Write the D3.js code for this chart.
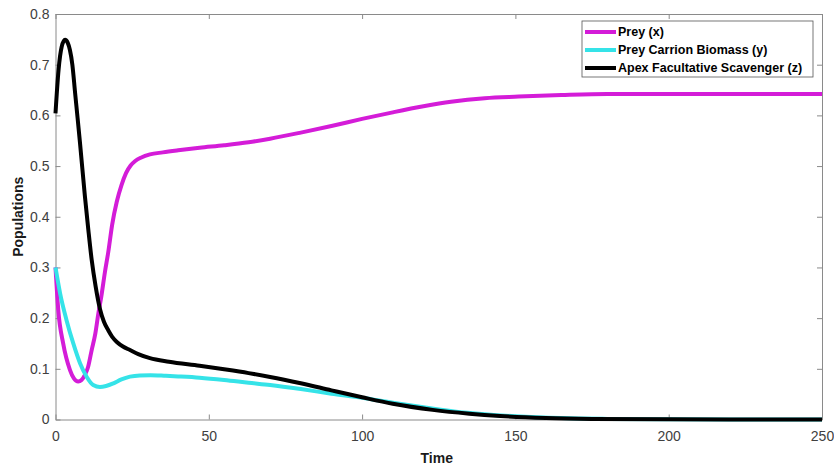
<!DOCTYPE html>
<html lang="en">
  <head>
    <meta charset="UTF-8" />
    <title>populations</title>
    <script src="https://cdn.jsdelivr.net/npm/d3@7/dist/d3.min.js"></script>
    <style>
      body { margin: 0; background: #fff; }
      text { font-family: Arial, "Liberation Sans", sans-serif; }
    </style>
  </head>
  <body>
    <div id="wrapper"></div>
    <script>
      // values
      const preyTime = [0, 0.9, 2.5, 4.7, 6, 7.4, 8.5, 9.6, 10.6, 11.8, 13, 14, 15, 16.1, 17.2, 18.5, 20, 21.5, 23, 24.5, 26, 28, 30.8, 35, 40, 47, 55, 63, 70, 80, 90, 100, 110, 120, 129, 140, 151, 165, 180, 200, 225, 250];
      const preyValues = [0.3, 0.216, 0.15, 0.098, 0.081, 0.075, 0.078, 0.088, 0.103, 0.137, 0.17, 0.21, 0.245, 0.29, 0.33, 0.385, 0.43, 0.462, 0.486, 0.501, 0.51, 0.517, 0.523, 0.527, 0.531, 0.536, 0.541, 0.547, 0.554, 0.566, 0.579, 0.593, 0.606, 0.618, 0.627, 0.634, 0.637, 0.64, 0.642, 0.642, 0.642, 0.642];

      const carrionTime = [0, 1.5, 3.6, 5.8, 8, 10.2, 12.3, 14.5, 16.5, 18.9, 21.5, 24.3, 27.5, 31, 36, 40, 47, 55, 63, 70, 80, 90, 100, 110, 120, 130, 140, 150, 165, 180, 200, 225, 250];
      const carrionValues = [0.3, 0.249, 0.196, 0.15, 0.111, 0.084, 0.068, 0.064, 0.066, 0.0714, 0.079, 0.0845, 0.087, 0.0875, 0.0862, 0.085, 0.0825, 0.078, 0.0725, 0.068, 0.06, 0.051, 0.043, 0.033, 0.024, 0.016, 0.0105, 0.0065, 0.0028, 0.0012, 0.0004, 0.0001, 0];

      const scavTime = [0, 1, 2, 3.1, 4, 4.7, 5.5, 6.4, 7.2, 8, 9.6, 10.7, 11.8, 13.1, 14.5, 15.8, 17.2, 18.5, 20, 22, 24.3, 27, 30.8, 37, 47, 55, 63, 70, 80, 90, 100, 110, 123, 135, 145, 160, 175, 200, 225, 250];
      const scavValues = [0.604, 0.69, 0.735, 0.749, 0.743, 0.729, 0.7, 0.644, 0.595, 0.545, 0.44, 0.375, 0.315, 0.262, 0.218, 0.193, 0.176, 0.163, 0.153, 0.144, 0.137, 0.129, 0.121, 0.114, 0.106, 0.099, 0.0915, 0.084, 0.0715, 0.0575, 0.0438, 0.031, 0.019, 0.0115, 0.007, 0.003, 0.0012, 0.0003, 0.0001, 0];

      const seriesNames = ["Prey (x)", "Prey Carrion Biomass (y)", "Apex Facultative Scavenger (z)"];
      const seriesColors = ["#d41cd8", "#35e3e8", "#000000"];
      const xTicks = [0, 50, 100, 150, 200, 250];
      const yTicks = [0, 0.1, 0.2, 0.3, 0.4, 0.5, 0.6, 0.7, 0.8];

      const dimensions = {
        width: 834,
        height: 468,
        margin: { top: 14, right: 12, bottom: 48.5, left: 55.5 },
      };
      dimensions.boundedWidth =
        dimensions.width - dimensions.margin.left - dimensions.margin.right;
      dimensions.boundedHeight =
        dimensions.height - dimensions.margin.top - dimensions.margin.bottom;

      const series = [
        { name: seriesNames[0], color: seriesColors[0], t: preyTime, v: preyValues },
        { name: seriesNames[1], color: seriesColors[1], t: carrionTime, v: carrionValues },
        { name: seriesNames[2], color: seriesColors[2], t: scavTime, v: scavValues },
      ];

      const svg = d3
        .select("#wrapper")
        .append("svg")
        .attr("width", dimensions.width)
        .attr("height", dimensions.height);

      const bounds = svg
        .append("g")
        .attr("transform", `translate(${dimensions.margin.left},${dimensions.margin.top})`);

      const xScale = d3.scaleLinear().domain([0, 250]).range([0, dimensions.boundedWidth]);
      const yScale = d3.scaleLinear().domain([0, 0.8]).range([dimensions.boundedHeight, 0]);

      const axisColor = "#8a8a8a";
      const labelColor = "#404040";

      // box + inward ticks, MATLAB style
      const styleAxis = (g) => {
        g.select(".domain").attr("stroke", axisColor);
        g.selectAll(".tick line").attr("stroke", axisColor);
        g.selectAll(".tick text").attr("fill", labelColor).style("font-size", "14px");
      };

      bounds
        .append("g")
        .attr("transform", `translate(0,${dimensions.boundedHeight})`)
        .call(d3.axisBottom(xScale).tickValues(xTicks).tickSizeInner(-5).tickSizeOuter(0).tickPadding(12).tickFormat(d3.format("d")))
        .call(styleAxis);
      bounds
        .append("g")
        .call(d3.axisTop(xScale).tickValues(xTicks).tickSizeInner(-5).tickSizeOuter(0).tickFormat(""))
        .call(styleAxis);
      bounds
        .append("g")
        .call(d3.axisLeft(yScale).tickValues(yTicks).tickSizeInner(-5).tickSizeOuter(0).tickPadding(6).tickFormat((d) => (d === 0 ? "0" : d3.format(".1f")(d))))
        .call(styleAxis);
      bounds
        .append("g")
        .attr("transform", `translate(${dimensions.boundedWidth},0)`)
        .call(d3.axisRight(yScale).tickValues(yTicks).tickSizeInner(-5).tickSizeOuter(0).tickFormat(""))
        .call(styleAxis);

      const lineGenerator = d3
        .line()
        .x((d) => xScale(d[0]))
        .y((d) => yScale(d[1]))
        .curve(d3.curveMonotoneX);

      series.forEach((s) => {
        bounds
          .append("path")
          .attr("d", lineGenerator(d3.zip(s.t, s.v)))
          .attr("fill", "none")
          .attr("stroke", s.color)
          .attr("stroke-width", 4)
          .attr("stroke-linejoin", "round");
      });

      // axis titles
      svg
        .append("text")
        .attr("x", dimensions.margin.left + dimensions.boundedWidth / 2 - 2)
        .attr("y", 463)
        .attr("text-anchor", "middle")
        .attr("font-weight", "bold")
        .style("font-size", "14px")
        .attr("fill", "#1a1a1a")
        .text("Time");
      svg
        .append("text")
        .attr("transform", `translate(23,${dimensions.margin.top + dimensions.boundedHeight / 2}) rotate(-90)`)
        .attr("text-anchor", "middle")
        .attr("font-weight", "bold")
        .style("font-size", "14px")
        .attr("fill", "#1a1a1a")
        .text("Populations");

      // legend
      const legend = svg.append("g").attr("transform", "translate(582,21)");
      legend
        .append("rect")
        .attr("width", 231)
        .attr("height", 56)
        .attr("fill", "#fff")
        .attr("stroke", "#555")
        .attr("stroke-width", 0.8);
      series.forEach((s, i) => {
        const row = legend.append("g").attr("transform", `translate(0,${11 + i * 18})`);
        row
          .append("line")
          .attr("x1", 3)
          .attr("x2", 34)
          .attr("stroke", s.color)
          .attr("stroke-width", 4);
        row
          .append("text")
          .attr("x", 36)
          .attr("dy", "0.35em")
          .attr("font-weight", "bold")
          .style("font-size", "12.5px")
          .attr("fill", "#000")
          .text(s.name);
      });
    </script>
  </body>
</html>
